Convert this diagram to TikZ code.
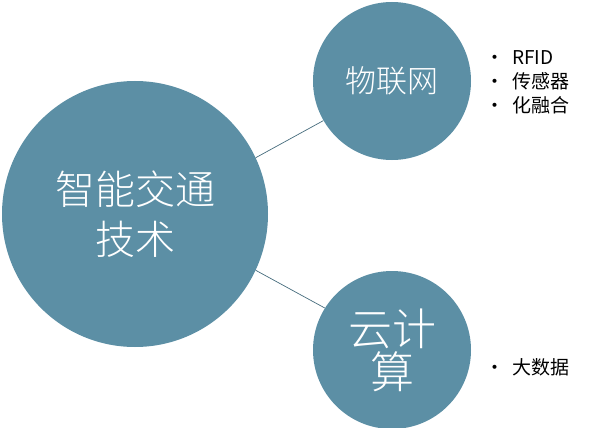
\documentclass[tikz,border=0pt]{standalone}
\usepackage{fontspec}
\setmainfont{Noto Sans CJK SC Light}
\newfontfamily\listfont{Noto Sans CJK SC}
\usetikzlibrary{positioning}
\definecolor{circblue}{RGB}{92,143,165}
\newcommand{\itm}[1]{\makebox[27pt][l]{\textbullet}#1}

\begin{document}
\begin{tikzpicture}[x=1pt,y=-1pt,
  bubble/.style={circle,fill=circblue,text=white,inner sep=0pt,align=center},
  link/.style={draw=circblue!75!black,line width=0.7pt},
  items/.style={anchor=west,align=left,inner sep=0pt,font=\listfont\fontsize{19}{24}\selectfont}]
  \useasboundingbox (0,0) rectangle (600,428);
  % circles
  \node[bubble,minimum size=266pt,font=\fontsize{40}{50}\selectfont] (itfx) at (135,214) {智能交通\\技术};
  \node[bubble,minimum size=158pt,font=\fontsize{31}{38}\selectfont] (iot) at (392,81) {物联网};
  \node[bubble,minimum size=158pt,font=\fontsize{44}{43}\selectfont] (cloud) at (392,350) {云计\\算};
  % links
  \draw[link] (itfx.25) -- (iot.210);
  \draw[link] (itfx.-25) -- (cloud.148);
  % bullet lists
  \node[items] (iotlist) at (485,82) {\itm{RFID}\\\itm{传感器}\\\itm{化融合}};
  \node[items] (cloudlist) at (485,367) {\itm{大数据}};
\end{tikzpicture}
\end{document}
